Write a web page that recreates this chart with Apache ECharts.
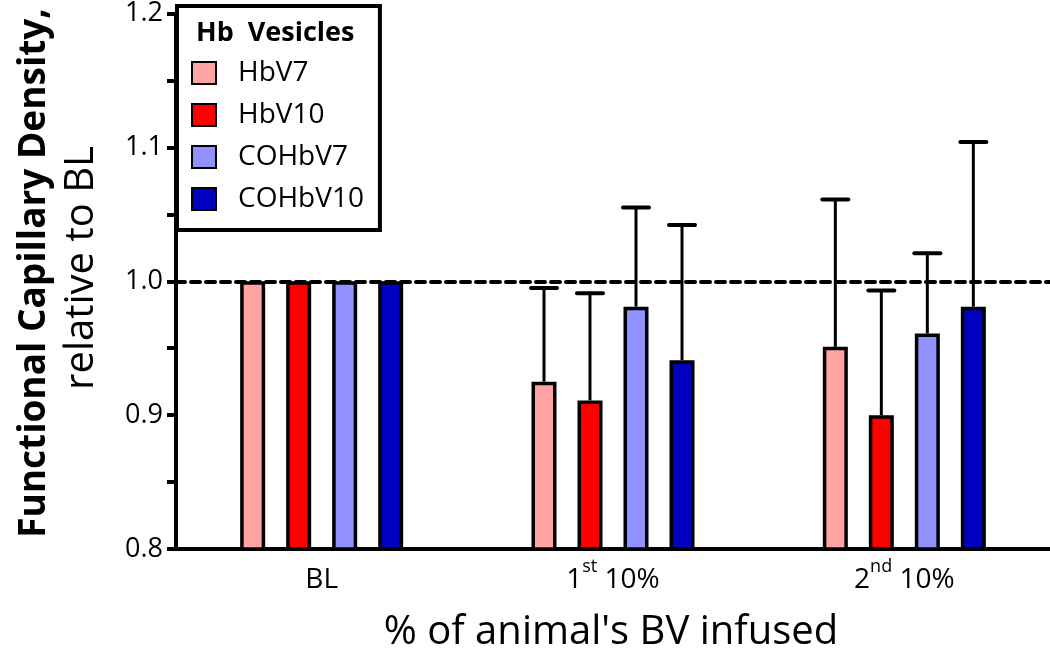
<!DOCTYPE html>
<html><head><meta charset="utf-8">
<script src="https://cdn.jsdelivr.net/npm/echarts@6/dist/echarts.min.js"></script>
<style>html,body{margin:0;padding:0;background:#fff}#c{width:1050px;height:652px}</style>
</head><body><div id="c"></div>
<script>
const categories = ['BL', '1st 10%', '2nd 10%'];
const seriesNames = ['HbV7', 'HbV10', 'COHbV7', 'COHbV10'];
const hbv7 = [1.0, 0.925, 0.951];
const hbv10 = [1.0, 0.911, 0.900];
const cohbv7 = [1.0, 0.981, 0.961];
const cohbv10 = [1.0, 0.941, 0.981];
const hbv7Upper = [null, 0.995, 1.061];
const hbv10Upper = [null, 0.991, 0.993];
const cohbv7Upper = [null, 1.055, 1.021];
const cohbv10Upper = [null, 1.042, 1.104];
const colors = ['#FFA3A3', '#FF0000', '#9191FF', '#0000C0'];
const yTicks = [0.8, 0.9, 1.0, 1.1, 1.2];

const values = [hbv7, hbv10, cohbv7, cohbv10];
const uppers = [hbv7Upper, hbv10Upper, cohbv7Upper, cohbv10Upper];
const FONT = 'Open Sans';
const BW = 25, GAP = 21;

const chart = echarts.init(document.getElementById('c'), null, {renderer: 'canvas'});

const barSeries = seriesNames.map((n, i) => ({
  name: n, type: 'bar', data: values[i], barWidth: BW, barGap: (GAP / BW * 100) + '%',
  itemStyle: {color: colors[i], borderColor: '#000', borderWidth: 3.5},
  z: 2
}));

const errSeries = seriesNames.map((n, i) => ({
  type: 'custom', name: n + '_err', z: 3, silent: true,
  data: values[i].map((v, k) => [k, v, uppers[i][k]]),
  renderItem: function (params, api) {
    const up = api.value(2);
    if (up === null || up === undefined || isNaN(up)) return null;
    const base = api.coord([api.value(0), api.value(1)]);
    const top = api.coord([api.value(0), up]);
    const off = (i - 1.5) * (BW + GAP);
    const x = base[0] + off;
    const cap = 13;
    return {type: 'group', children: [
      {type: 'line', shape: {x1: x, y1: base[1], x2: x, y2: top[1]}, style: {stroke: '#000', lineWidth: 3}},
      {type: 'line', shape: {x1: x - cap, y1: top[1], x2: x + cap, y2: top[1]}, style: {stroke: '#000', lineWidth: 4, lineCap: 'round'}}
    ]};
  }
}));

barSeries[0].markLine = {
  silent: true, symbol: 'none', label: {show: false},
  lineStyle: {color: '#000', width: 4, type: [9, 6], cap: 'round'},
  data: [{yAxis: 1.0}]
};

chart.setOption({
  animation: false,
  backgroundColor: '#fff',
  grid: {left: 176, right: 0, top: 10, bottom: 103, containLabel: false},
  legend: {
    data: seriesNames, orient: 'vertical', left: 177, top: 6,
    padding: [53, 16, 17, 14],
    itemWidth: 24, itemHeight: 22, itemGap: 14,
    borderColor: '#000', borderWidth: 4, backgroundColor: '#fff',
    icon: 'rect',
    itemStyle: {borderColor: '#000', borderWidth: 2},
    textStyle: {fontFamily: FONT, fontSize: 28, color: '#000', padding: [0, 0, 0, 17]}
  },
  xAxis: {
    type: 'category', data: categories, boundaryGap: true,
    axisLine: {lineStyle: {color: '#000', width: 4}},
    axisTick: {alignWithLabel: true, interval: 0, length: 10, lineStyle: {width: 4, color: '#000'}},
    axisLabel: {
      interval: 0, hideOverlap: false,
      margin: 9, fontFamily: FONT, fontSize: 28, color: '#000',
      formatter: function (v) {
        if (v === '1st 10%') return '{n|1}{sup|st}{n| 10%}';
        if (v === '2nd 10%') return '{n|2}{sup|nd}{n| 10%}';
        return '{n|' + v + '}';
      },
      rich: {
        n: {fontSize: 28, fontFamily: FONT, color: '#000', lineHeight: 36, verticalAlign: 'bottom'},
        sup: {fontSize: 18, fontFamily: FONT, color: '#000', verticalAlign: 'top', lineHeight: 20}
      }
    },
    splitLine: {show: false}
  },
  yAxis: {
    type: 'value', min: 0.8, max: 1.2, interval: 0.05,
    axisLine: {show: true, lineStyle: {color: '#000', width: 4}},
    axisTick: {show: true, length: 9, lineStyle: {width: 4, color: '#000'}},
    axisLabel: {
      margin: 13, fontFamily: FONT, fontSize: 27, color: '#000',
      formatter: function (v) {
        const t = yTicks.find(y => Math.abs(y - v) < 1e-6);
        return t === undefined ? '' : t.toFixed(1);
      }
    },
    splitLine: {show: false}
  },
  graphic: [
    {type: 'text', x: 34, y: 273, rotation: Math.PI / 2,
     style: {text: 'Functional Capillary Density,', fontFamily: FONT, fontWeight: 'bold', fontSize: 37, fill: '#000', align: 'center', verticalAlign: 'middle'}},
    {type: 'text', x: 82, y: 268, rotation: Math.PI / 2,
     style: {text: 'relative to BL', fontFamily: FONT, fontWeight: 'normal', fontSize: 40, fill: '#000', align: 'center', verticalAlign: 'middle'}},
    {type: 'text', x: 611, y: 633,
     style: {text: "% of animal's BV infused", fontFamily: FONT, fontSize: 40, fill: '#000', align: 'center', verticalAlign: 'middle'}},
    {type: 'text', x: 196, y: 33, z: 100,
     style: {text: 'Hb  Vesicles', fontFamily: FONT, fontWeight: 'bold', fontSize: 27, fill: '#000', align: 'left', verticalAlign: 'middle'}}
  ],
  series: barSeries.concat(errSeries)
});
</script></body></html>
